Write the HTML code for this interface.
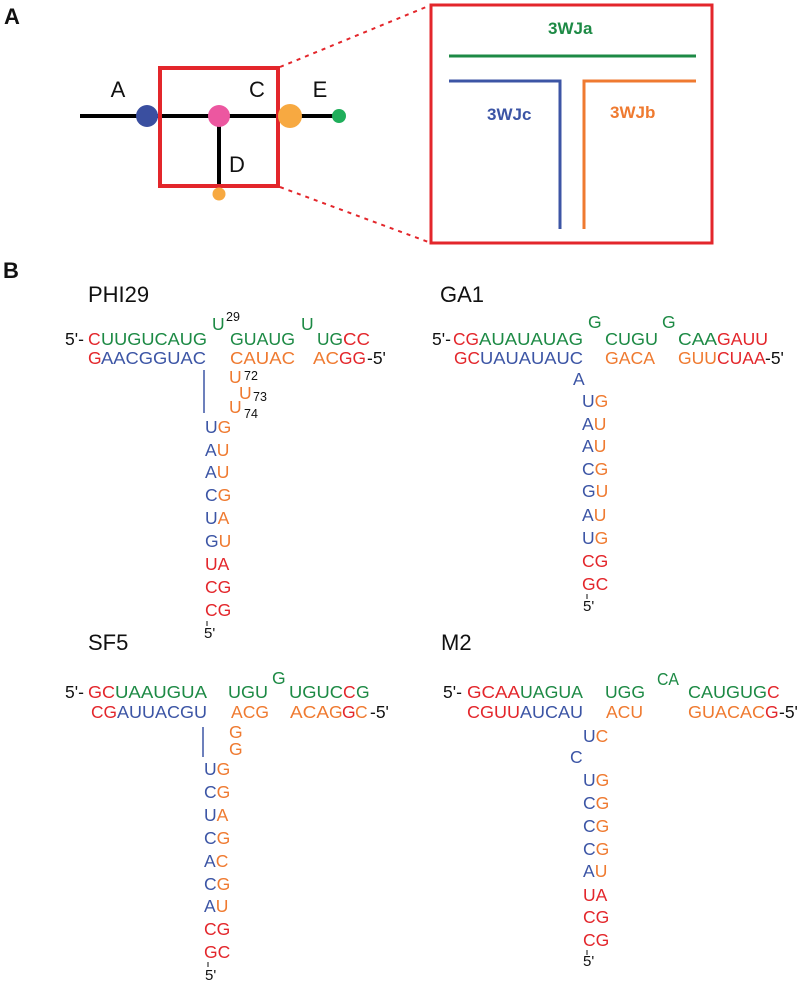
<!DOCTYPE html>
<html><head><meta charset="utf-8"><style>
html,body{margin:0;padding:0;background:#fff}
svg{display:block}
text{font-family:"Liberation Sans",Arial,sans-serif}
.s{font-size:17.5px}
.r{fill:#e3262b}.g{fill:#1d8a45}.b{fill:#3c55a5}.o{fill:#ef7a30}.k{fill:#111}
.n{font-size:12.5px;fill:#111}
.t{font-size:22px;fill:#111}
.L{font-size:17px;font-weight:bold}
</style></head><body>
<svg width="800" height="985" viewBox="0 0 800 985" xmlns="http://www.w3.org/2000/svg">
<!-- Panel A -->
<text x="4" y="24" style="font-size:22px;font-weight:bold" class="k">A</text>
<line x1="80" y1="116" x2="339" y2="116" stroke="#000" stroke-width="4"/>
<line x1="219" y1="116" x2="219" y2="188" stroke="#000" stroke-width="4"/>
<rect x="160" y="68" width="118" height="118" fill="none" stroke="#e3262b" stroke-width="4"/>
<circle cx="147" cy="116" r="11" fill="#3a4fa0"/>
<circle cx="219" cy="116" r="11" fill="#ec57a0"/>
<circle cx="290" cy="116" r="12" fill="#f7a941"/>
<circle cx="339" cy="116" r="7" fill="#1fae5a"/>
<circle cx="219" cy="194" r="6.5" fill="#f7a941"/>
<text x="118" y="97" class="t" text-anchor="middle">A</text>
<text x="257" y="97" class="t" text-anchor="middle">C</text>
<text x="320" y="97" class="t" text-anchor="middle">E</text>
<text x="237" y="172" class="t" text-anchor="middle">D</text>
<line x1="280" y1="67" x2="431" y2="5" stroke="#e3262b" stroke-width="2" stroke-dasharray="4 5"/>
<line x1="280" y1="187" x2="431" y2="243" stroke="#e3262b" stroke-width="2" stroke-dasharray="4 5"/>
<rect x="431" y="5" width="281" height="238" fill="none" stroke="#e3262b" stroke-width="3"/>
<line x1="449" y1="56" x2="696" y2="56" stroke="#1d8a45" stroke-width="3"/>
<polyline points="449,81 560,81 560,229" fill="none" stroke="#3c55a5" stroke-width="3"/>
<polyline points="696,81 584,81 584,229" fill="none" stroke="#ef7a30" stroke-width="3"/>
<text x="548" y="34" class="L g">3WJa</text>
<text x="487" y="120" class="L b">3WJc</text>
<text x="610" y="118" class="L o">3WJb</text>

<!-- Panel B -->
<text x="3" y="278" style="font-size:22px;font-weight:bold" class="k">B</text>

<!-- PHI29 -->
<text x="88" y="302" class="t">PHI29</text>
<text x="65" y="345" class="s k">5'-</text>
<text x="88" y="345" class="s r">C</text>
<text x="101" y="345" class="s g" textLength="106" lengthAdjust="spacingAndGlyphs">UUGUCAUG</text>
<text x="212" y="330" class="s g">U</text>
<text x="226" y="321" class="n">29</text>
<text x="230" y="345" class="s g" textLength="65" lengthAdjust="spacingAndGlyphs">GUAUG</text>
<text x="301" y="330" class="s g">U</text>
<text x="317" y="345" class="s g" textLength="26" lengthAdjust="spacingAndGlyphs">UG</text>
<text x="343" y="345" class="s r" textLength="27" lengthAdjust="spacingAndGlyphs">CC</text>
<text x="88" y="364" class="s r">G</text>
<text x="101" y="364" class="s b" textLength="105" lengthAdjust="spacingAndGlyphs">AACGGUAC</text>
<text x="230" y="364" class="s o" textLength="65" lengthAdjust="spacingAndGlyphs">CAUAC</text>
<text x="313" y="364" class="s o" textLength="26" lengthAdjust="spacingAndGlyphs">AC</text>
<text x="339" y="364" class="s r" textLength="27" lengthAdjust="spacingAndGlyphs">GG</text>
<text x="367" y="364" class="s k">-5'</text>
<text x="229" y="383" class="s o">U</text><text x="244" y="380" class="n">72</text>
<text x="239" y="399" class="s o">U</text><text x="253" y="401" class="n">73</text>
<text x="229" y="413" class="s o">U</text><text x="244" y="418" class="n">74</text>
<line x1="204" y1="370" x2="204" y2="413" stroke="#3c55a5" stroke-width="1.5"/>
<g class="s">
<text x="205" y="433"><tspan class="b">U</tspan><tspan class="o">G</tspan></text>
<text x="205" y="456"><tspan class="b">A</tspan><tspan class="o">U</tspan></text>
<text x="205" y="478"><tspan class="b">A</tspan><tspan class="o">U</tspan></text>
<text x="205" y="501"><tspan class="b">C</tspan><tspan class="o">G</tspan></text>
<text x="205" y="524"><tspan class="b">U</tspan><tspan class="o">A</tspan></text>
<text x="205" y="547"><tspan class="b">G</tspan><tspan class="o">U</tspan></text>
<text x="205" y="570"><tspan class="r">UA</tspan></text>
<text x="205" y="593"><tspan class="r">CG</tspan></text>
<text x="205" y="616"><tspan class="r">CG</tspan></text>
</g>
<line x1="207" y1="621" x2="207" y2="626" stroke="#111" stroke-width="1"/>
<text x="204" y="638" class="n" style="font-size:15px">5'</text>

<!-- GA1 -->
<text x="440" y="302" class="t">GA1</text>
<text x="432" y="345" class="s k">5'-</text>
<text x="453" y="345" class="s r" textLength="26" lengthAdjust="spacingAndGlyphs">CG</text>
<text x="479" y="345" class="s g" textLength="104" lengthAdjust="spacingAndGlyphs">AUAUAUAG</text>
<text x="588" y="328" class="s g">G</text>
<text x="605" y="345" class="s g" textLength="53" lengthAdjust="spacingAndGlyphs">CUGU</text>
<text x="662" y="328" class="s g">G</text>
<text x="678" y="345" class="s g" textLength="39" lengthAdjust="spacingAndGlyphs">CAA</text>
<text x="717" y="345" class="s r" textLength="51" lengthAdjust="spacingAndGlyphs">GAUU</text>
<text x="454" y="364" class="s r" textLength="26" lengthAdjust="spacingAndGlyphs">GC</text>
<text x="480" y="364" class="s b" textLength="103" lengthAdjust="spacingAndGlyphs">UAUAUAUC</text>
<text x="605" y="364" class="s o" textLength="50" lengthAdjust="spacingAndGlyphs">GACA</text>
<text x="678" y="364" class="s o">GUU</text>
<text x="717" y="364" class="s r">CUAA</text>
<text x="765" y="364" class="s k">-5'</text>
<text x="573" y="385" class="s b">A</text>
<g class="s">
<text x="582" y="407"><tspan class="b">U</tspan><tspan class="o">G</tspan></text>
<text x="582" y="430"><tspan class="b">A</tspan><tspan class="o">U</tspan></text>
<text x="582" y="452"><tspan class="b">A</tspan><tspan class="o">U</tspan></text>
<text x="582" y="475"><tspan class="b">C</tspan><tspan class="o">G</tspan></text>
<text x="582" y="497"><tspan class="b">G</tspan><tspan class="o">U</tspan></text>
<text x="582" y="521"><tspan class="b">A</tspan><tspan class="o">U</tspan></text>
<text x="582" y="544"><tspan class="b">U</tspan><tspan class="o">G</tspan></text>
<text x="582" y="567"><tspan class="r">CG</tspan></text>
<text x="582" y="590"><tspan class="r">GC</tspan></text>
</g>
<line x1="587" y1="594" x2="587" y2="599" stroke="#111" stroke-width="1"/>
<text x="583" y="611" class="n" style="font-size:15px">5'</text>

<!-- SF5 -->
<text x="88" y="650" class="t">SF5</text>
<text x="65" y="698" class="s k">5'-</text>
<text x="88" y="698" class="s r" textLength="27" lengthAdjust="spacingAndGlyphs">GC</text>
<text x="115" y="698" class="s g" textLength="92" lengthAdjust="spacingAndGlyphs">UAAUGUA</text>
<text x="228" y="698" class="s g" textLength="40" lengthAdjust="spacingAndGlyphs">UGU</text>
<text x="272" y="684" class="s g">G</text>
<text x="289" y="698" class="s g" textLength="54" lengthAdjust="spacingAndGlyphs">UGUC</text>
<text x="343" y="698" class="s r">C</text>
<text x="356" y="698" class="s g">G</text>
<text x="91" y="718" class="s r" textLength="26" lengthAdjust="spacingAndGlyphs">CG</text>
<text x="117" y="718" class="s b" textLength="90" lengthAdjust="spacingAndGlyphs">AUUACGU</text>
<text x="231" y="718" class="s o" textLength="38" lengthAdjust="spacingAndGlyphs">ACG</text>
<text x="290" y="718" class="s o" textLength="39" lengthAdjust="spacingAndGlyphs">ACA</text>
<text x="329" y="718" class="s o">G</text>
<text x="342" y="718" class="s r">G</text>
<text x="355" y="718" class="s o">C</text>
<text x="370" y="718" class="s k">-5'</text>
<text x="229" y="738" class="s o">G</text>
<text x="229" y="755" class="s o">G</text>
<line x1="203" y1="727" x2="203" y2="757" stroke="#3c55a5" stroke-width="1.5"/>
<g class="s">
<text x="204" y="775"><tspan class="b">U</tspan><tspan class="o">G</tspan></text>
<text x="204" y="798"><tspan class="b">C</tspan><tspan class="o">G</tspan></text>
<text x="204" y="821"><tspan class="b">U</tspan><tspan class="o">A</tspan></text>
<text x="204" y="844"><tspan class="b">C</tspan><tspan class="o">G</tspan></text>
<text x="204" y="867"><tspan class="b">A</tspan><tspan class="o">C</tspan></text>
<text x="204" y="890"><tspan class="b">C</tspan><tspan class="o">G</tspan></text>
<text x="204" y="912"><tspan class="b">A</tspan><tspan class="o">U</tspan></text>
<text x="204" y="935"><tspan class="r">CG</tspan></text>
<text x="204" y="958"><tspan class="r">GC</tspan></text>
</g>
<line x1="208" y1="962" x2="208" y2="967" stroke="#111" stroke-width="1"/>
<text x="205" y="980" class="n" style="font-size:15px">5'</text>

<!-- M2 -->
<text x="441" y="650" class="t">M2</text>
<text x="443" y="698" class="s k">5'-</text>
<text x="467" y="698" class="s r" textLength="53" lengthAdjust="spacingAndGlyphs">GCAA</text>
<text x="520" y="698" class="s g" textLength="63" lengthAdjust="spacingAndGlyphs">UAGUA</text>
<text x="605" y="698" class="s g" textLength="40" lengthAdjust="spacingAndGlyphs">UGG</text>
<text x="657" y="685" class="s g" textLength="22" lengthAdjust="spacingAndGlyphs">CA</text>
<text x="688" y="698" class="s g" textLength="79" lengthAdjust="spacingAndGlyphs">CAUGUG</text>
<text x="767" y="698" class="s r">C</text>
<text x="467" y="718" class="s r" textLength="53" lengthAdjust="spacingAndGlyphs">CGUU</text>
<text x="520" y="718" class="s b" textLength="63" lengthAdjust="spacingAndGlyphs">AUCAU</text>
<text x="606" y="718" class="s o" textLength="37" lengthAdjust="spacingAndGlyphs">ACU</text>
<text x="688" y="718" class="s o" textLength="77" lengthAdjust="spacingAndGlyphs">GUACAC</text>
<text x="765" y="718" class="s r">G</text>
<text x="779" y="718" class="s k">-5'</text>
<text x="583" y="742" class="s"><tspan class="b">U</tspan><tspan class="o">C</tspan></text>
<text x="570" y="763" class="s b">C</text>
<g class="s">
<text x="583" y="786"><tspan class="b">U</tspan><tspan class="o">G</tspan></text>
<text x="583" y="809"><tspan class="b">C</tspan><tspan class="o">G</tspan></text>
<text x="583" y="832"><tspan class="b">C</tspan><tspan class="o">G</tspan></text>
<text x="583" y="855"><tspan class="b">C</tspan><tspan class="o">G</tspan></text>
<text x="583" y="877"><tspan class="b">A</tspan><tspan class="o">U</tspan></text>
<text x="583" y="901"><tspan class="r">UA</tspan></text>
<text x="583" y="923"><tspan class="r">CG</tspan></text>
<text x="583" y="946"><tspan class="r">CG</tspan></text>
</g>
<line x1="587" y1="950" x2="587" y2="955" stroke="#111" stroke-width="1"/>
<text x="583" y="966" class="n" style="font-size:15px">5'</text>
</svg>
</body></html>
